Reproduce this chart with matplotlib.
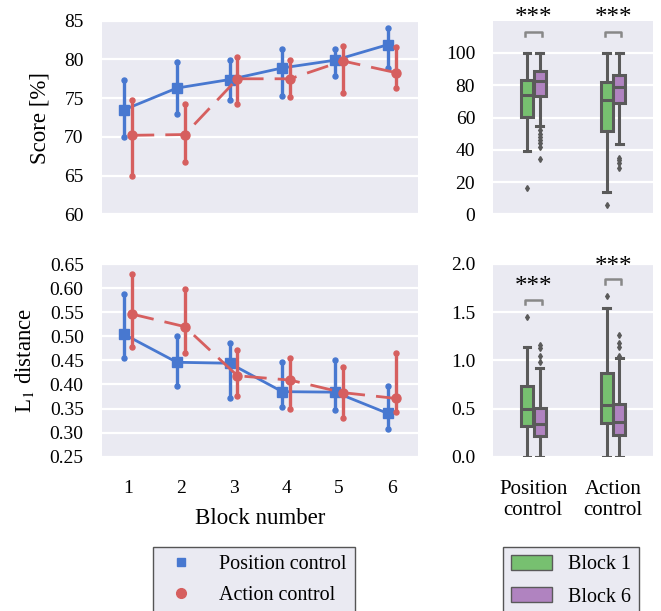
import numpy as np
import matplotlib.pyplot as plt
from matplotlib.lines import Line2D
from matplotlib.patches import Patch

plt.rcParams["font.family"] = ["Liberation Serif", "DejaVu Serif"]
plt.rcParams["mathtext.fontset"] = "stix"

# ============================================================
# DATA
# ============================================================

blocks = [1, 2, 3, 4, 5, 6]

score_pos = [73.5, 76.3, 77.4, 78.9, 79.9, 81.9]
score_pos_lo = [70.0, 72.9, 74.8, 75.3, 77.8, 78.9]
score_pos_hi = [77.3, 79.7, 79.9, 81.3, 81.3, 84.0]
score_act = [70.2, 70.3, 77.5, 77.5, 79.8, 78.3]
score_act_lo = [64.9, 66.7, 74.3, 75.1, 75.7, 76.3]
score_act_hi = [74.8, 74.3, 80.3, 79.9, 81.7, 81.6]

l1_pos = [0.504, 0.446, 0.444, 0.385, 0.384, 0.340]
l1_pos_lo = [0.454, 0.397, 0.371, 0.354, 0.347, 0.307]
l1_pos_hi = [0.587, 0.500, 0.487, 0.446, 0.450, 0.397]
l1_act = [0.546, 0.520, 0.418, 0.409, 0.383, 0.371]
l1_act_lo = [0.478, 0.466, 0.375, 0.350, 0.331, 0.342]
l1_act_hi = [0.629, 0.598, 0.471, 0.455, 0.437, 0.465]

# box order: position/block1, position/block6, action/block1, action/block6
group_labels = ["Position\ncontrol", "Action\ncontrol"]
score_whislo = [39, 55, 14, 43.5]
score_q1 = [60.6, 73.3, 51.9, 68.9]
score_med = [73.7, 82.4, 70.6, 78.6]
score_q3 = [83.2, 88.6, 81.7, 86.5]
score_whishi = [100, 100, 100, 100]
score_fliers = [[16.5], [52, 50, 48, 46, 44, 42, 34], [5.8], [35, 33.5, 31.5, 28.6]]

l1_whislo = [0, 0, 0, 0]
l1_q1 = [0.32, 0.21, 0.35, 0.225]
l1_med = [0.49, 0.34, 0.54, 0.36]
l1_q3 = [0.73, 0.51, 0.865, 0.55]
l1_whishi = [1.135, 0.92, 1.54, 1.02]
l1_fliers = [[1.45], [1.16, 1.13, 1.05, 0.98], [1.67], [1.26, 1.18, 1.14, 1.04]]

# ============================================================
# STYLE
# ============================================================

BG = "#eaeaf2"
BLUE = "#4878d0"
RED = "#d65f5f"
GREEN = "#77c070"
PURPLE = "#b083c0"
GREY = "#5a5a5a"
TICK_FS = 14
LABEL_FS = 16.5
LEG_FS = 14.5

fig = plt.figure(figsize=(6.61, 6.11), dpi=100)

W, H = 661, 611


def add_ax(x0, y0, x1, y1):
    ax = fig.add_axes([x0 / W, 1 - y1 / H, (x1 - x0) / W, (y1 - y0) / H])
    ax.set_facecolor(BG)
    for s in ax.spines.values():
        s.set_visible(False)
    ax.grid(axis="y", color="white", linewidth=1.6)
    ax.set_axisbelow(True)
    ax.tick_params(length=0, labelsize=TICK_FS, pad=13)
    ax.tick_params(axis="x", pad=17)
    return ax


ax_s = add_ax(101.7, 20.7, 418, 214.3)
ax_l = add_ax(101.7, 264, 418, 456.7)
ax_bs = add_ax(493.3, 20.7, 653, 214.3)
ax_bl = add_ax(493.3, 264, 653, 456.7)

# ============================================================
# POINT PLOTS
# ============================================================

x = np.array(blocks, dtype=float)
dodge = 0.075


def point_series(ax, xs, m, lo, hi, color, marker, ls, z):
    m = np.array(m)
    lo = np.array(lo)
    hi = np.array(hi)
    for xi, a, b in zip(xs, lo, hi):
        ax.plot([xi, xi], [a, b], color=color, linewidth=2.4, solid_capstyle="butt", zorder=z)
    ax.plot(xs, lo, linestyle="none", marker="o", markersize=3.6, color=color, zorder=z)
    ax.plot(xs, hi, linestyle="none", marker="o", markersize=3.6, color=color, zorder=z)
    ax.plot(xs, m, color=color, linestyle=ls, linewidth=2, marker=marker,
            markersize=6.5, zorder=z + 1)


for ax, pos, plo, phi, act, alo, ahi in [
    (ax_s, score_pos, score_pos_lo, score_pos_hi, score_act, score_act_lo, score_act_hi),
    (ax_l, l1_pos, l1_pos_lo, l1_pos_hi, l1_act, l1_act_lo, l1_act_hi),
]:
    point_series(ax, x - dodge, pos, plo, phi, BLUE, "s", "-", 3)
    point_series(ax, x + dodge, act, alo, ahi, RED, "o", (0, (8, 4)), 5)
    ax.set_xlim(0.5, 6.5)
    ax.set_xticks(blocks)

ax_s.set_ylim(60, 85)
ax_s.set_yticks(np.arange(60, 86, 5))
ax_s.set_xticklabels([])
ax_s.set_ylabel("Score [%]", fontsize=LABEL_FS)
ax_s.yaxis.set_label_coords(-0.163, 0.5)

ax_l.set_ylim(0.25, 0.65)
ax_l.set_yticks(np.arange(0.25, 0.651, 0.05))
ax_l.set_yticklabels([f"{v:.2f}" for v in np.arange(0.25, 0.651, 0.05)])
ax_l.set_ylabel(r"L$_1$ distance", fontsize=LABEL_FS)
ax_l.yaxis.set_label_coords(-0.208, 0.5)
ax_l.set_xlabel("Block number", fontsize=LABEL_FS)
ax_l.xaxis.set_label_coords(0.5, -0.265)

# ============================================================
# BOX PLOTS
# ============================================================

box_pos = [-0.08, 0.08, 0.92, 1.08]
box_colors = [GREEN, PURPLE, GREEN, PURPLE]


def draw_boxes(ax, wlo, q1, med, q3, whi, fl):
    stats = []
    for i in range(4):
        stats.append(dict(whislo=wlo[i], q1=q1[i], med=med[i], q3=q3[i],
                          whishi=whi[i], fliers=fl[i]))
    bp = ax.bxp(stats, positions=box_pos, widths=0.15, patch_artist=True,
                showcaps=True, manage_ticks=False,
                boxprops=dict(edgecolor=GREY, linewidth=2.2),
                medianprops=dict(color=GREY, linewidth=2.2),
                whiskerprops=dict(color=GREY, linewidth=2.2),
                capprops=dict(color=GREY, linewidth=2.2),
                flierprops=dict(marker="d", markersize=3, markerfacecolor=GREY,
                                markeredgecolor=GREY))
    for patch, c in zip(bp["boxes"], box_colors):
        patch.set_facecolor(c)
    for cap in bp["caps"]:
        xd = cap.get_xdata()
        mid = xd.mean()
        cap.set_xdata([mid - 0.04, mid + 0.04])
    ax.set_xlim(-0.5, 1.5)
    ax.set_xticks([0, 1])


def bracket(ax, xc, y, drop, text_y):
    x0, x1 = xc - 0.105, xc + 0.105
    ax.plot([x0, x0, x1, x1], [y - drop, y, y, y - drop], color="#888888",
            linewidth=1.8, clip_on=False)
    ax.text(xc, text_y, "***", ha="center", va="center",
            fontsize=18, clip_on=False)


draw_boxes(ax_bs, score_whislo, score_q1, score_med, score_q3, score_whishi, score_fliers)
ax_bs.set_ylim(0, 120)
ax_bs.set_yticks([0, 20, 40, 60, 80, 100])
ax_bs.set_xticklabels([])
bracket(ax_bs, 0, 113, 2.6, 121.5)
bracket(ax_bs, 1, 113, 2.6, 121.5)

draw_boxes(ax_bl, l1_whislo, l1_q1, l1_med, l1_q3, l1_whishi, l1_fliers)
ax_bl.set_ylim(0, 2.0)
ax_bl.set_yticks([0, 0.5, 1.0, 1.5, 2.0])
ax_bl.set_yticklabels(["0.0", "0.5", "1.0", "1.5", "2.0"])
ax_bl.set_xticklabels(group_labels, linespacing=1.1, fontsize=15)
bracket(ax_bl, 0, 1.63, 0.05, 1.76)
bracket(ax_bl, 1, 1.84, 0.05, 1.97)

# ============================================================
# LEGENDS
# ============================================================

h_left = [
    Line2D([], [], color=BLUE, marker="s", linestyle="none", markersize=6, label="Position control"),
    Line2D([], [], color=RED, marker="o", linestyle="none", markersize=7, label="Action control"),
]
leg1 = fig.legend(handles=h_left, loc="upper left", bbox_to_anchor=(152.7 / W, 1 - 546.7 / H),
                  borderaxespad=0, fontsize=LEG_FS, frameon=True, fancybox=False, facecolor=BG,
                  edgecolor="#555555", framealpha=1, borderpad=0.4, handlelength=2.0,
                  handletextpad=0.9, labelspacing=0.62)
leg1.get_frame().set_linewidth(1.0)

h_right = [
    Patch(facecolor=GREEN, edgecolor=GREY, label="Block 1"),
    Patch(facecolor=PURPLE, edgecolor=GREY, label="Block 6"),
]
leg2 = fig.legend(handles=h_right, loc="upper left", bbox_to_anchor=(503.3 / W, 1 - 546.7 / H),
                  borderaxespad=0, fontsize=LEG_FS, frameon=True, fancybox=False, facecolor=BG,
                  edgecolor="#555555", framealpha=1, borderpad=0.4, handlelength=2.0,
                  handleheight=0.8, handletextpad=0.8, labelspacing=0.62)
leg2.get_frame().set_linewidth(1.0)

plt.savefig("out.png", dpi=100)
plt.close()
